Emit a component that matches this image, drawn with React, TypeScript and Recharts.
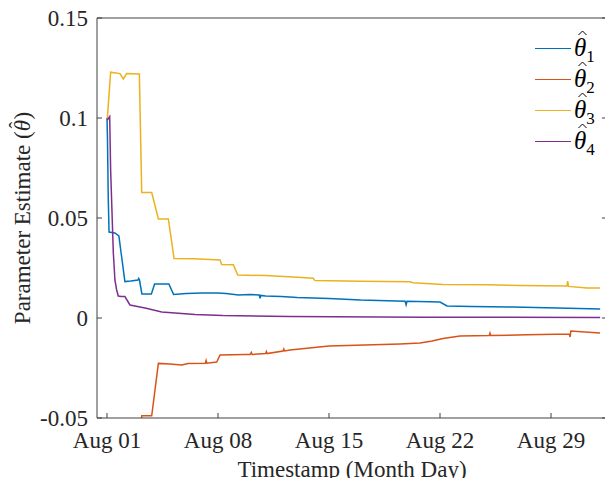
import { LineChart, Line, XAxis, YAxis, Legend, Label } from "recharts";

// x values are days since Aug 01 00:00
const dayTicks = [0, 7, 14, 21, 28];
const valueTicks = [-0.05, 0, 0.05, 0.1, 0.15];

const theta1Days = [0, 0.03, 0.08, 0.13, 0.5, 0.75, 0.9, 1.13, 1.5, 1.95, 2.0, 2.05, 2.2, 2.8, 3.0, 3.9, 4.2, 5.0, 6.0, 7.0, 7.5, 8.3, 9.0, 9.6, 9.65, 9.7, 10.0, 11.0, 12.0, 14.0, 16.0, 18.8, 18.86, 18.92, 21.0, 21.44, 23.0, 25.6, 28.4, 31.1];
const theta1Vals = [0.1, 0.09, 0.06, 0.043, 0.0425, 0.041, 0.032, 0.0182, 0.0185, 0.019, 0.0198, 0.019, 0.012, 0.012, 0.017, 0.017, 0.0118, 0.0122, 0.0125, 0.0125, 0.0123, 0.0115, 0.0118, 0.0115, 0.0098, 0.0113, 0.011, 0.0108, 0.0103, 0.0098, 0.009, 0.0084, 0.0066, 0.0084, 0.008, 0.006, 0.0057, 0.0055, 0.005, 0.0045];

const theta2Days = [0, 1.0, 2.1, 2.19, 2.82, 3.24, 3.97, 4.71, 5.11, 6.2, 6.25, 6.3, 6.92, 7.13, 8.7, 9.02, 9.1, 9.15, 10.0, 10.05, 10.1, 11.1, 11.15, 11.2, 11.54, 14.0, 18.48, 19.74, 20.5, 21.19, 22.26, 24.1, 24.15, 24.2, 26.5, 29.15, 29.2, 29.25, 31.09];
const theta2Vals = [-0.15, -0.1, -0.065, -0.0489, -0.0489, -0.0227, -0.023, -0.0235, -0.0228, -0.0226, -0.0212, -0.0226, -0.022, -0.0185, -0.0182, -0.0183, -0.0172, -0.0182, -0.0178, -0.0168, -0.0178, -0.0165, -0.0155, -0.0165, -0.016, -0.014, -0.013, -0.0125, -0.0115, -0.0102, -0.009, -0.0088, -0.0075, -0.0088, -0.0084, -0.008, -0.0095, -0.0065, -0.0075];

const theta3Days = [0.02, 0.23, 0.82, 1.03, 1.24, 2.04, 2.19, 2.82, 3.24, 3.87, 4.23, 5.5, 7.13, 7.23, 7.97, 8.24, 10.0, 12.0, 13.0, 13.12, 16.0, 19.1, 19.3, 21.19, 24.0, 26.0, 29.0, 29.05, 29.1, 30.27, 31.09];
const theta3Vals = [0.0997, 0.1229, 0.1222, 0.1195, 0.1222, 0.122, 0.0627, 0.0627, 0.0495, 0.0495, 0.0297, 0.0296, 0.029, 0.0268, 0.0266, 0.0215, 0.0212, 0.0204, 0.0199, 0.0187, 0.0184, 0.0181, 0.0176, 0.0167, 0.0166, 0.0163, 0.016, 0.0185, 0.0158, 0.015, 0.015];

const theta4Days = [0.02, 0.17, 0.23, 0.4, 0.5, 0.61, 0.71, 0.9, 1.13, 1.45, 2.4, 3.45, 5.55, 7.32, 11.5, 20.0, 31.1];
const theta4Vals = [0.099, 0.1007, 0.074, 0.0325, 0.019, 0.014, 0.011, 0.0107, 0.0107, 0.0065, 0.005, 0.003, 0.0018, 0.0012, 0.0007, 0.0004, 0.0003];

const seriesNames = ["1", "2", "3", "4"];
const seriesColors = ["#0072BD", "#D95319", "#EDB120", "#7E2F8E"];

const toPoints = (days: number[], vals: number[]) => days.map((t, i) => ({ t, v: vals[i] }));
const seriesData = [
  toPoints(theta1Days, theta1Vals),
  toPoints(theta2Days, theta2Vals),
  toPoints(theta3Days, theta3Vals),
  toPoints(theta4Days, theta4Vals),
];

const serif = "'Liberation Serif', 'Times New Roman', serif";
const axisColor = "#404040";
const textColor = "#262626";
const xDomain = [-0.63, 31.53];
const yDomain = [-0.05, 0.15];

const dayLabel = (d: number) => `Aug ${String(d + 1).padStart(2, "0")}`;

const LeftTick = ({ x, y, payload }: any) => (
  <g>
    <line x1={x} x2={x + 5} y1={y} y2={y} stroke={axisColor} />
    <text x={x - 9} y={y + 8} textAnchor="end" fontSize={23} fontFamily={serif} fill={textColor}>
      {String(payload.value)}
    </text>
  </g>
);

const RightTick = ({ x, y }: any) => <line x1={x} x2={x - 5} y1={y} y2={y} stroke={axisColor} />;

const BottomTick = ({ x, y, payload }: any) => (
  <g>
    <line x1={x} x2={x} y1={y} y2={y - 5} stroke={axisColor} />
    <text x={x} y={y + 30} textAnchor="middle" fontSize={23} fontFamily={serif} fill={textColor}>
      {dayLabel(payload.value)}
    </text>
  </g>
);

const TopTick = ({ x, y }: any) => <line x1={x} x2={x} y1={y} y2={y + 5} stroke={axisColor} />;

const XTitle = ({ viewBox }: any) => (
  <text
    x={viewBox.x + viewBox.width / 2}
    y={viewBox.y + 59}
    textAnchor="middle"
    fontSize={23}
    fontFamily={serif}
    fill={textColor}
  >
    Timestamp (Month Day)
  </text>
);

const YTitle = ({ viewBox }: any) => (
  <g transform={`translate(30, ${viewBox.y + viewBox.height / 2}) rotate(-90)`}>
    <text x={0} y={0} textAnchor="middle" fontSize={23} fontFamily={serif} fill={textColor}>
      Parameter Estimate (<tspan fontStyle="italic">θ</tspan>
      <tspan dx={-8.5} dy={-6} fontSize={20}>ˆ</tspan>
      <tspan dx={2.3} dy={6}>)</tspan>
    </text>
  </g>
);

const ThetaHat = ({ sub }: { sub: string }) => (
  <span style={{ fontFamily: serif, fontSize: 25, lineHeight: "25px", color: "#000", whiteSpace: "nowrap" }}>
    <span style={{ position: "relative", fontStyle: "italic" }}>
      θ
      <svg width={9} height={6} style={{ position: "absolute", left: 4, top: -4 }}>
        <polyline points="0.5,5 4.5,1 8.5,5" fill="none" stroke="#000" strokeWidth={1} />
      </svg>
    </span>
    <span style={{ fontSize: 17, position: "relative", top: 6 }}>{sub}</span>
  </span>
);

const renderLegend = (props: any) => (
  <div style={{ display: "flex", flexDirection: "column" }}>
    {(props.payload || []).map((entry: any) => (
      <div key={entry.value} style={{ height: 31, display: "flex", alignItems: "center" }}>
        <span style={{ width: 36, borderTop: `1.5px solid ${entry.color}`, marginRight: 3 }} />
        <ThetaHat sub={entry.value} />
      </div>
    ))}
  </div>
);

export default function App() {
  return (
    <div style={{ position: "fixed", left: 0, top: 0, width: 605, height: 478, overflow: "hidden", background: "#fff" }}>
      <LineChart width={612} height={478} margin={{ top: 17, right: 4, bottom: 59, left: 0 }}>
        <XAxis
          xAxisId="bottom"
          type="number"
          dataKey="t"
          domain={xDomain}
          allowDataOverflow
          ticks={dayTicks}
          height={1}
          tickSize={0}
          tickMargin={0}
          tickLine={false}
          tick={<BottomTick />}
          axisLine={{ stroke: axisColor }}
          interval={0}
        >
          <Label content={<XTitle />} />
        </XAxis>
        <XAxis
          xAxisId="top"
          orientation="top"
          type="number"
          domain={xDomain}
          allowDataOverflow
          ticks={dayTicks}
          height={1}
          tickSize={0}
          tickMargin={0}
          tickLine={false}
          tick={<TopTick />}
          axisLine={{ stroke: axisColor }}
          interval={0}
        />
        <YAxis
          yAxisId="left"
          type="number"
          domain={yDomain}
          allowDataOverflow
          ticks={valueTicks}
          width={97}
          tickSize={0}
          tickMargin={0}
          tickLine={false}
          tick={<LeftTick />}
          axisLine={{ stroke: axisColor }}
          interval={0}
        >
          <Label content={<YTitle />} />
        </YAxis>
        <YAxis
          yAxisId="right"
          orientation="right"
          type="number"
          domain={yDomain}
          allowDataOverflow
          ticks={valueTicks}
          width={1}
          tickSize={0}
          tickMargin={0}
          tickLine={false}
          tick={<RightTick />}
          axisLine={{ stroke: axisColor }}
          interval={0}
        />
        <Legend
          content={renderLegend}
          layout="horizontal"
          align="center"
          verticalAlign="middle"
          wrapperStyle={{ left: 535, top: 33, width: "auto", height: "auto" }}
        />
        {seriesData.map((data, i) => (
          <Line
            key={seriesNames[i]}
            name={seriesNames[i]}
            data={data}
            dataKey="v"
            xAxisId="bottom"
            yAxisId="left"
            type="linear"
            stroke={seriesColors[i]}
            strokeWidth={1.5}
            dot={false}
            activeDot={false}
            isAnimationActive={false}
          />
        ))}
      </LineChart>
    </div>
  );
}
